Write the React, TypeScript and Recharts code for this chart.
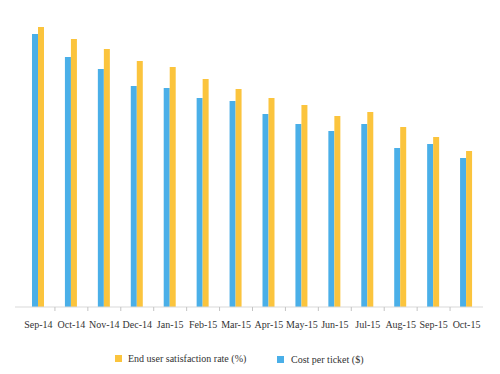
import { BarChart, Bar, XAxis, YAxis } from "recharts";

const months = [
  "Sep-14", "Oct-14", "Nov-14", "Dec-14", "Jan-15", "Feb-15", "Mar-15",
  "Apr-15", "May-15", "Jun-15", "Jul-15", "Aug-15", "Sep-15", "Oct-15",
];
const costPerTicket = [273, 250, 238, 221, 219, 209, 206, 193, 183, 176, 183, 159, 163, 149];
const satisfactionRate = [280, 268, 258, 246, 240, 228, 218, 209, 202, 191, 195, 180, 170, 156];

const data = months.map((m, i) => ({ month: m, cost: costPerTicket[i], satisfaction: satisfactionRate[i] }));

const BLUE = "#4aafe8";
const ORANGE = "#fbc43d";
const FONT = "'Liberation Serif', 'Times New Roman', serif";

const W = 500;
const H = 374;
const M = { top: 12, left: 15, right: 17, bottom: 37 };
const X_AXIS_H = 30;
const PAD_LEFT = 7;
const AXIS_Y = H - M.bottom - X_AXIS_H;
const BAND = (W - M.left - M.right - PAD_LEFT) / months.length;

function MonthTick(props: any) {
  const { x, payload, index } = props;
  return (
    <g>
      {index > 0 && (
        <line x1={x - BAND / 2} x2={x - BAND / 2} y1={AXIS_Y} y2={AXIS_Y + 4} stroke="#c4c4c4" />
      )}
      <text x={x} y={AXIS_Y + 21} textAnchor="middle" fontSize={10} fill="#333" fontFamily={FONT}>
        {payload.value}
      </text>
    </g>
  );
}

export default function App() {
  return (
    <div style={{ position: "absolute", left: 0, top: 0, width: W, height: H, background: "#fff" }}>
      <BarChart width={W} height={H} data={data} margin={M} barSize={6} barGap={0}>
        <YAxis width={0} domain={[0, 295]} tick={false} tickLine={false} axisLine={{ stroke: "#d9d9d9" }} />
        <XAxis
          dataKey="month"
          height={X_AXIS_H}
          padding={{ left: PAD_LEFT, right: 0 }}
          axisLine={{ stroke: "#d9d9d9" }}
          tickLine={false}
          interval={0}
          tick={<MonthTick />}
        />
        <Bar dataKey="cost" fill={BLUE} isAnimationActive={false} />
        <Bar dataKey="satisfaction" fill={ORANGE} isAnimationActive={false} />
      </BarChart>
      <div style={{ position: "absolute", left: 115, top: 353, fontFamily: FONT, fontSize: 10, color: "#333", display: "flex", alignItems: "center" }}>
        <span style={{ display: "inline-block", width: 7, height: 7, background: ORANGE, marginRight: 6 }} />
        End user satisfaction rate (%)
      </div>
      <div style={{ position: "absolute", left: 277, top: 354, fontFamily: FONT, fontSize: 10, color: "#333", display: "flex", alignItems: "center" }}>
        <span style={{ display: "inline-block", width: 7, height: 7, background: BLUE, marginRight: 7 }} />
        Cost per ticket ($)
      </div>
    </div>
  );
}
